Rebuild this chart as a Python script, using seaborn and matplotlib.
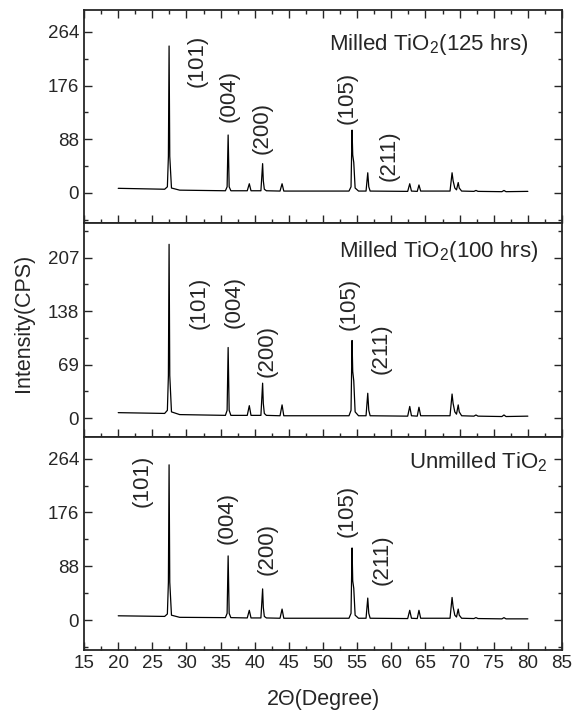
import numpy as np
import pandas as pd
import matplotlib
matplotlib.use("Agg")
import matplotlib.pyplot as plt
from matplotlib.ticker import MultipleLocator
import seaborn as sns

# 2-theta positions of the pattern vertices (shared by all three scans)
two_theta = [20.0, 26.8, 27.2, 27.35, 27.45, 27.55, 27.8, 29.0, 35.7, 35.95,
             36.1, 36.25, 36.5, 38.9, 39.2, 39.45, 40.9, 41.15, 41.25, 41.4,
             41.7, 43.7, 44.0, 44.25, 53.8, 54.1, 54.25, 54.35, 54.5, 54.7,
             55.2, 56.3, 56.55, 56.7, 56.9, 62.4, 62.7, 62.95, 63.8, 64.05,
             64.3, 68.6, 68.9, 69.05, 69.3, 69.55, 69.8, 69.95, 70.3, 72.1,
             72.4, 72.7, 76.2, 76.5, 76.8, 80.0]

# intensities (CPS)
milled_125 = [7.5, 6, 10, 60, 241, 60, 8, 4.5, 3.5, 10,
              95, 10, 3.5, 3.5, 15, 3.5, 3.5, 48, 20, 6,
              3.5, 3, 15, 3, 3, 10, 103, 62, 50, 8,
              3, 3, 33, 10, 3, 2.5, 15, 3, 2.5, 13,
              3, 3, 33, 20, 8, 5, 17, 8, 3, 2.5,
              4, 2.5, 2, 4, 2, 2.5]
milled_100 = [7, 6, 10, 55, 224, 55, 8, 4.5, 3.5, 10,
              91, 10, 3.5, 3.5, 16, 3.5, 3.5, 45, 19, 6,
              3.5, 3, 17, 3, 3, 10, 100, 60, 48, 8,
              3, 3, 32, 10, 3, 2.5, 15, 3, 2.5, 14,
              3, 3, 31, 19, 8, 5, 17, 8, 3, 2.5,
              4, 2.5, 2, 4, 2, 2.5]
unmilled = [7, 6, 10, 62, 254, 62, 8, 4.5, 4, 11,
            105, 11, 4, 3.5, 16, 3.5, 3.5, 51, 21, 6,
            3.5, 3, 18, 3, 3, 11, 118, 64, 52, 8,
            3, 3, 36, 11, 3, 2.5, 16, 3, 2.5, 16,
            3, 3, 37, 22, 8, 5, 18, 8, 3, 2.5,
            4, 2.5, 2, 4, 2, 2]

hkl = ["(101)", "(004)", "(200)", "(105)", "(211)"]
hkl_x_125 = [31.5, 36.2, 41.1, 53.5, 59.7]
hkl_y_125 = [216, 159, 106, 155, 61]
hkl_x_100 = [31.8, 37.0, 41.8, 53.8, 58.5]
hkl_y_100 = [149, 149, 87, 147, 89]
hkl_x_un = [23.5, 35.9, 41.8, 53.5, 58.6]
hkl_y_un = [228, 167, 116, 179, 98]

sample_names = [r"Milled TiO$_\mathregular{2}$(125 hrs)",
                r"Milled TiO$_\mathregular{2}$(100 hrs)",
                r"Unmilled TiO$_\mathregular{2}$"]

sns.set_style("ticks")
plt.rcParams["font.family"] = ["Liberation Sans", "DejaVu Sans"]
plt.rcParams["mathtext.fontset"] = "custom"
plt.rcParams["mathtext.rm"] = "Liberation Sans"
plt.rcParams["mathtext.it"] = "Liberation Sans:italic"
plt.rcParams["mathtext.bf"] = "Liberation Sans:bold"

fig, axes = plt.subplots(3, 1, figsize=(5.72, 7.17), dpi=100, sharex=True)
fig.subplots_adjust(left=0.147, right=0.9825, top=0.986, bottom=0.0934, hspace=0)

panels = [
    (milled_125, hkl_x_125, hkl_y_125, (-50, 300), [0, 88, 176, 264], 44, (0.929, 0.812)),
    (milled_100, hkl_x_100, hkl_y_100, (-24, 251), [0, 69, 138, 207], 34.5, (0.950, 0.842)),
    (unmilled, hkl_x_un, hkl_y_un, (-49, 300), [0, 88, 176, 264], 44, (0.969, 0.853)),
]

for i, (ax, (vals, hx, hy, ylim, yticks, yminor, name_pos)) in enumerate(zip(axes, panels)):
    df = pd.DataFrame({"two_theta": two_theta, "intensity": vals})
    sns.lineplot(data=df, x="two_theta", y="intensity", ax=ax, color="black",
                 linewidth=0.9, estimator=None, sort=False)
    ax.set_xlim(15, 85)
    ax.set_ylim(*ylim)
    ax.set_yticks(yticks)
    ax.yaxis.set_minor_locator(MultipleLocator(yminor))
    ax.xaxis.set_major_locator(MultipleLocator(5))
    ax.xaxis.set_minor_locator(MultipleLocator(2.5))
    ax.set_xlabel("")
    ax.set_ylabel("")
    for s in ax.spines.values():
        s.set_visible(True)
        s.set_linewidth(1.3)
    ax.tick_params(which="both", direction="in", left=True, right=True,
                   top=(i == 0), bottom=True, labelsize=13.5, width=1.0)
    ax.tick_params(which="major", length=6)
    ax.tick_params(which="minor", length=3)
    for lab, x, y in zip(hkl, hx, hy):
        ax.text(x, y, lab, rotation=90, ha="center", va="center", fontsize=16)
    ax.text(name_pos[0], name_pos[1], sample_names[i], transform=ax.transAxes,
            ha="right", va="baseline", fontsize=16)

axes[-1].set_xlabel("2\u0398(Degree)", fontsize=15.5, labelpad=12)
fig.text(24 / 572, 1 - 323 / 717, "Intensity(CPS)", rotation=90,
         ha="center", va="center", fontsize=15.5)

fig.savefig("out.png", dpi=100)
